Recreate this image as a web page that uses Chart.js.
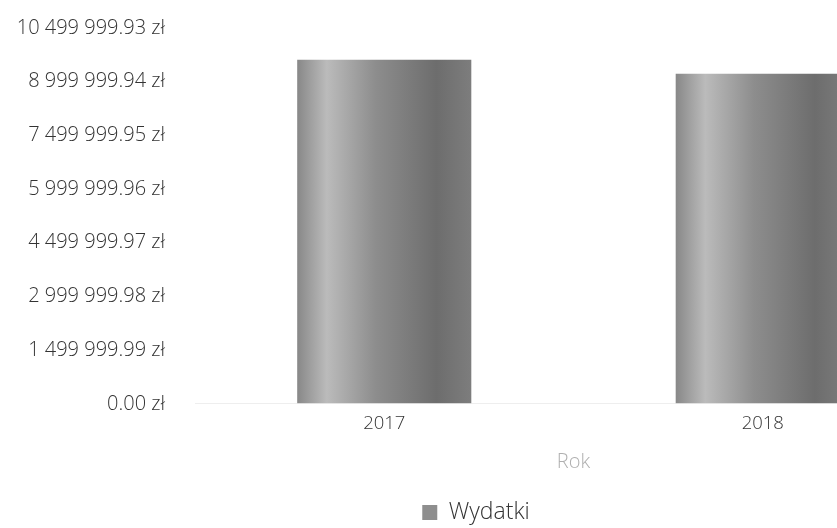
<!DOCTYPE html>
<html lang="pl">
<head>
  <meta charset="utf-8">
  <script src="https://cdn.jsdelivr.net/npm/chart.js"></script>
  <style>
    body { margin: 0; background: #fff; overflow: hidden; }
    .graph { position: relative; width: 956px; height: 528px; }
  </style>
</head>
<body>
  <div class="graph">
    <canvas id="chartBar"></canvas>
  </div>

<script>
  // dane wykresu
  var lata = ["2017", "2018"];
  var wydatki = [9610000, 9220000];
  var podzialkiY = [0, 1499999.99, 2999999.98, 4499999.97, 5999999.96, 7499999.95, 8999999.94, 10499999.93];

  function formatZl(v) {
    var parts = v.toFixed(2).split(".");
    return parts[0].replace(/\B(?=(\d{3})+(?!\d))/g, " ") + "." + parts[1] + " zł";
  }

  // cieniowanie słupków (jak na skanie)
  var cienSlupkow = {
    id: 'cienSlupkow',
    beforeDatasetsDraw: function (chart) {
      var c = chart.ctx;
      chart.getDatasetMeta(0).data.forEach(function (bar) {
        var l = bar.x - bar.width / 2;
        var r = bar.x + bar.width / 2;
        var g = c.createLinearGradient(l, 0, r, 0);
        g.addColorStop(0, '#888888');
        g.addColorStop(0.17, '#bbbbbb');
        g.addColorStop(0.45, '#8d8d8d');
        g.addColorStop(0.8, '#6d6d6d');
        g.addColorStop(1, '#7d7d7d');
        bar.options.backgroundColor = g;
      });
    }
  };

  var ctxBar = document.getElementById("chartBar").getContext("2d");
  var configBar = {
    type: 'bar',
    data: {
      labels: lata,
      datasets: [{
        label: 'Wydatki',
        data: wydatki,
        // funkcja => każdy słupek dostaje własny obiekt opcji
        backgroundColor: function () { return '#8e8e8e'; },
        borderWidth: 0,
        categoryPercentage: 1,
        barPercentage: 0.46
      }]
    },
    options: {
      responsive: true,
      maintainAspectRatio: false,
      animation: false,
      layout: { padding: { top: 28, right: 4, left: 0, bottom: -6 } },
      scales: {
        x: {
          grid: { display: false },
          border: { display: true, color: '#eeeeee' },
          ticks: { color: '#333', font: { family: 'Open Sans', size: 18.5, weight: 300 }, padding: 1 },
          title: { display: true, text: 'Rok', color: '#b0b0b0', font: { family: 'Open Sans', size: 20, weight: 300 }, padding: { top: 14, bottom: 27 } }
        },
        y: {
          min: 0,
          max: 10499999.93,
          // niewidoczne kreski podziałki tylko po to, by odsunąć etykiety od osi
          grid: { display: true, drawOnChartArea: false, drawTicks: true, tickLength: 30, color: 'rgba(0,0,0,0)' },
          border: { display: false },
          afterBuildTicks: function (axis) {
            axis.ticks = podzialkiY.map(function (v) { return { value: v }; });
          },
          afterFit: function (axis) { axis.width = 195; },
          ticks: {
            color: '#333',
            padding: 0,
            font: { family: 'Open Sans', size: 20, weight: 300 },
            callback: function (v) { return formatZl(v); }
          }
        }
      },
      plugins: {
        legend: {
          position: 'bottom',
          labels: {
            color: '#333',
            boxWidth: 15,
            boxHeight: 15,
            padding: 0,
            font: { family: 'Open Sans', size: 23, weight: 300 }
          }
        },
        tooltip: { enabled: false }
      }
    },
    plugins: [cienSlupkow]
  };

  var ax_chartBar = new Chart(ctxBar, configBar);
</script>
</body>
</html>
